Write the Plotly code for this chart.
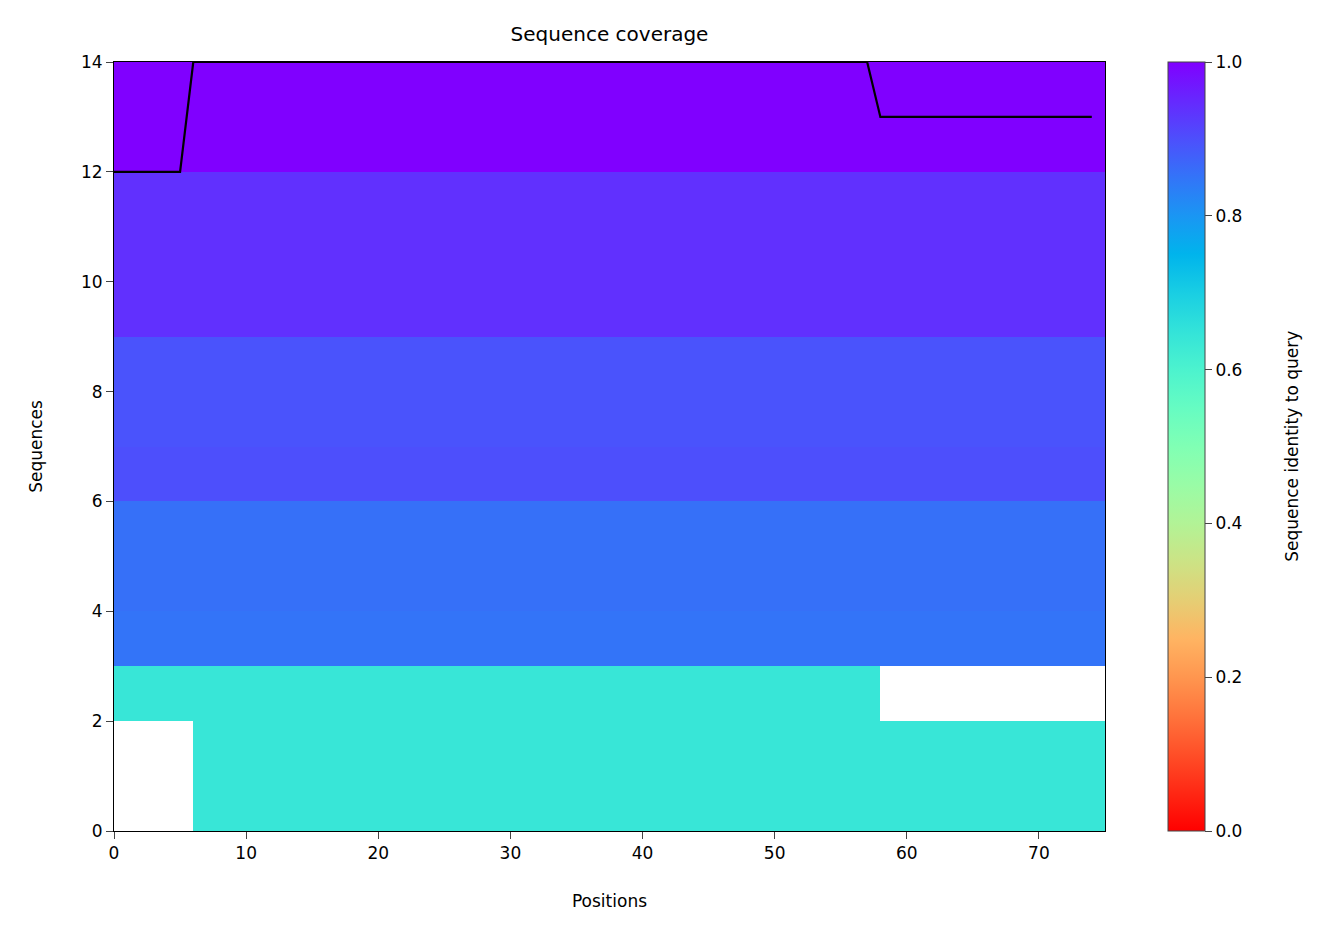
import numpy as np
import plotly.graph_objects as go

n_pos = 75
# identity to query for each sequence (bottom row first)
row_identity = [0.64, 0.64, 0.64, 0.85, 0.855, 0.855, 0.9, 0.895, 0.895, 0.94, 0.94, 0.94, 1.0, 1.0]
# uncovered position ranges per row: (row, start, end)
gaps = [(0, 0, 6), (1, 0, 6), (2, 58, 75)]

z = np.array([[v] * n_pos for v in row_identity], dtype=float)
for r, a, b in gaps:
    z[r, a:b] = np.nan
coverage = np.sum(~np.isnan(z), axis=0)

# matplotlib "rainbow_r"
stops = np.linspace(0, 1, 21)
scale = []
for v in stops:
    x = 1 - v
    r = abs(2 * x - 0.5); g = np.sin(np.pi * x); b = np.cos(np.pi * x / 2)
    r, g, b = [int(round(min(max(c, 0), 1) * 255)) for c in (r, g, b)]
    scale.append([float(v), f"rgb({r},{g},{b})"])

fig = go.Figure()
fig.add_trace(go.Heatmap(z=z, x0=0.5, dx=1, y0=0.5, dy=1, zmin=0, zmax=1, colorscale=scale,
                         colorbar=dict(x=1.0636, xanchor="left", len=1, y=0.5, ypad=0, xpad=0, thickness=37, outlinewidth=1,
                                       tickvals=[0, 0.2, 0.4, 0.6, 0.8, 1.0], ticktext=["0.0", "0.2", "0.4", "0.6", "0.8", "1.0"],
                                       ticks="outside", ticklen=7, tickfont=dict(size=17))))
fig.add_trace(go.Scatter(x=np.arange(n_pos), y=coverage, mode="lines", line=dict(color="black", width=2.2), showlegend=False))

ax = dict(showgrid=False, zeroline=False, ticks="outside", ticklen=7, showline=True, linecolor="black", mirror=True,
          tickfont=dict(size=17, color="black"))
fig.update_layout(
    width=1329, height=939, plot_bgcolor="white", paper_bgcolor="white",
    font=dict(family="DejaVu Sans", color="black"),
    margin=dict(l=106, r=232, t=54, b=116),
    title=dict(text="Sequence coverage", xref="paper", x=0.5, xanchor="center", yref="container", y=0.972,
               yanchor="middle", font=dict(size=20)),
    xaxis=dict(ax, range=[0, 75], dtick=10, title=dict(text="Positions", font=dict(size=17), standoff=32)),
    yaxis=dict(ax, range=[0, 14], dtick=2, title=dict(text="Sequences", font=dict(size=17), standoff=34)),
    annotations=[dict(text="Sequence identity to query", xref="paper", yref="paper", x=1.188, y=0.5,
                      textangle=-90, showarrow=False, font=dict(size=17), xanchor="center", yanchor="middle")],
)
fig.write_html("out.html")
